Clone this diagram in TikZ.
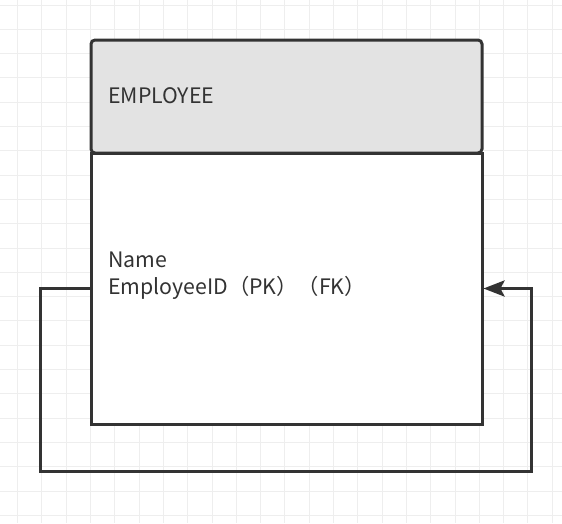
\documentclass[tikz,border=0pt]{standalone}
\usepackage{fontspec}
\setmainfont{Noto Sans CJK SC}
\usetikzlibrary{arrows.meta, positioning}
\definecolor{ink}{HTML}{333333}
\definecolor{hdrgray}{HTML}{E3E3E3}
\definecolor{gridln}{HTML}{EEEEEE}

\tikzset{
  headbox/.style={draw=ink, fill=hdrgray, line width=3pt, rounded corners=4pt,
    minimum width=391pt, minimum height=113pt, inner sep=0pt},
  bodybox/.style={draw=ink, fill=white, line width=3pt,
    minimum width=391pt, minimum height=271pt, inner sep=0pt},
  lbl/.style={font=\fontsize{21.3}{27}\selectfont, text=ink, align=left, inner sep=0pt},
  selfref/.style={draw=ink, line width=3pt, ->}
}

\begin{document}
\begin{tikzpicture}[x=1pt, y=-1pt, >={Stealth[length=21pt, width=16pt, inset=4pt]}]

% Background and grid
\fill[white] (0,0) rectangle (562,523);
\useasboundingbox (0,0) rectangle (562,523);
\foreach \k in {0,...,22} {
  \draw[gridln, line width=1pt] (17.6+24.3*\k,0) -- (17.6+24.3*\k,523);
  \draw[gridln, line width=1pt] (0,5+24.3*\k) -- (562,5+24.3*\k);
}

% Table
\node[bodybox] (body) at (286.5,288.5) {};
\node[headbox] (head) at (286.5,96.5) {};
\node[lbl, anchor=west] (title) at (108,96) {EMPLOYEE};
\node[lbl, anchor=west] (attrs) at (108,275.5) {Name\\EmployeeID（PK）（FK）};

% Self reference
\draw[selfref] (body.west) -- ++(-49,0) -- ++(0,183) -| ([xshift=48pt]body.east) -- (body.east);

\end{tikzpicture}
\end{document}
